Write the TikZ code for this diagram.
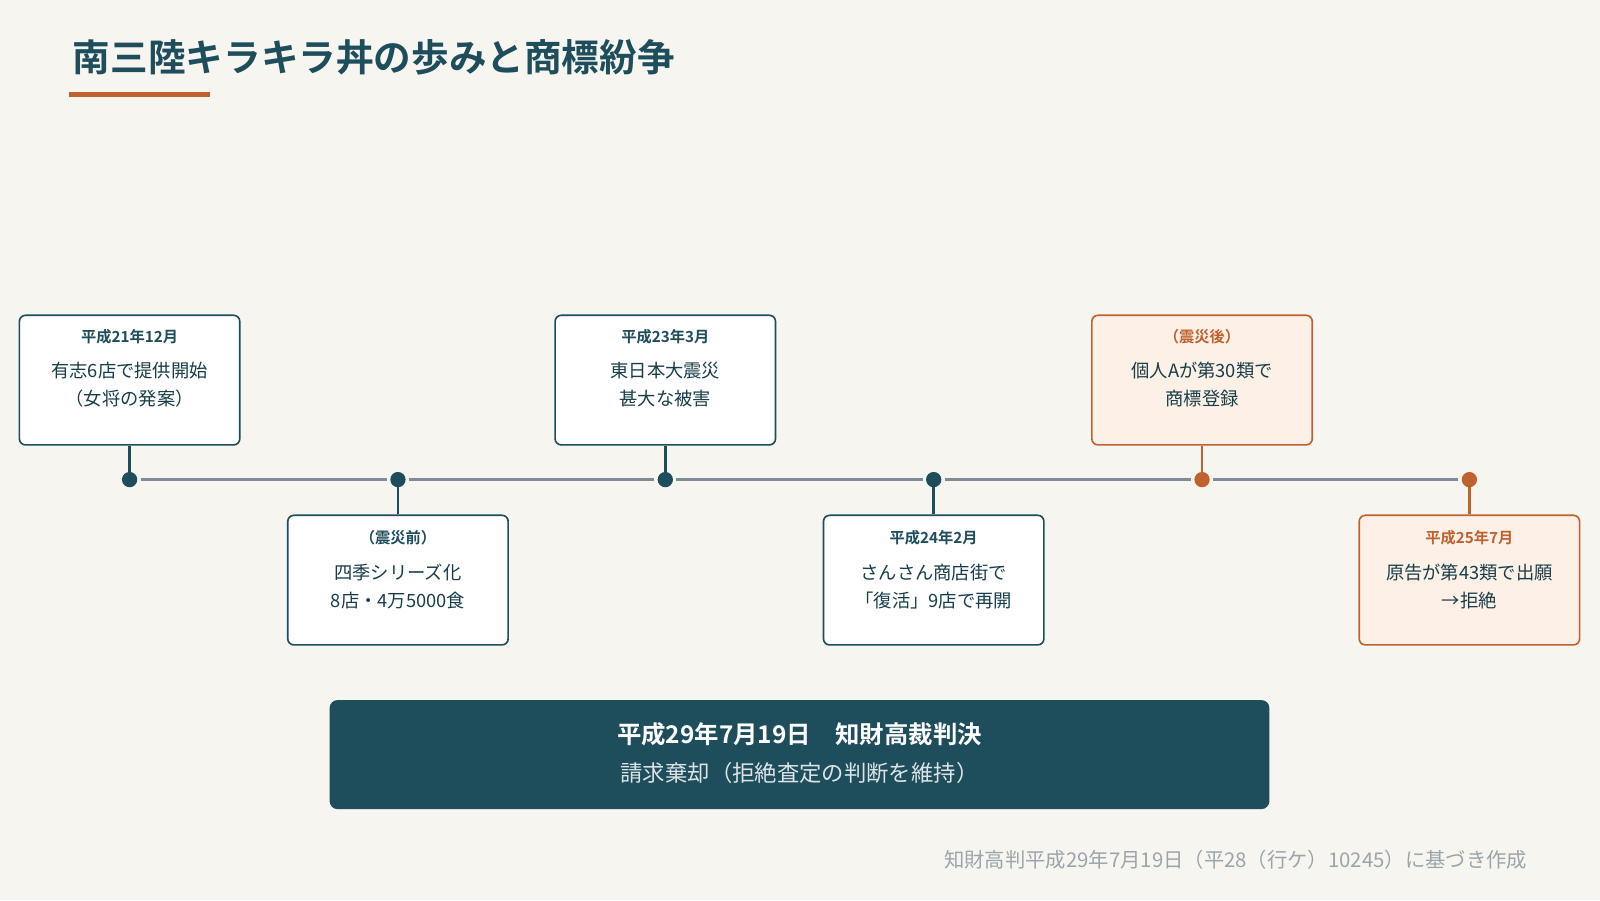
\documentclass[tikz,border=0pt]{standalone}
\usepackage{fontspec}
\setmainfont{Noto Sans CJK JP}[BoldFont={Noto Sans CJK JP Bold}]
\definecolor{teal}{HTML}{1E4D5C}
\definecolor{org}{HTML}{C0622F}
\definecolor{bg}{HTML}{F7F5F0}
\definecolor{lineg}{HTML}{7F8C95}
\definecolor{pale}{HTML}{FDF0E6}
\definecolor{foot}{HTML}{9AA5AB}
\begin{document}
\begin{tikzpicture}[x=1bp,y=-1bp,
  box/.style={draw=teal,line width=1.6bp,fill=white,rounded corners=6bp,minimum width=216bp,minimum height=127bp,inner sep=0},
  obox/.style={box,draw=org,fill=pale},
  dot/.style={circle,fill=teal,minimum size=15bp,inner sep=0},
  odot/.style={dot,fill=org},
  stem/.style={line width=2.5bp,draw=teal},
  ostem/.style={stem,draw=org},
  date/.style={font=\bfseries\fontsize{15}{18}\selectfont,text=teal},
  odate/.style={date,text=org},
  body/.style={font=\fontsize{18}{28}\selectfont,text=teal!80!black,align=center}]
\fill[bg] (0,0) rectangle (1568,882);
\useasboundingbox (0,0) rectangle (1568,882);
\node[anchor=base west,font=\bfseries\fontsize{37}{40}\selectfont,text=teal] (title) at (68,70) {南三陸キラキラ丼の歩みと商標紛争};
\fill[org] (68,90) rectangle (206,95);
% timeline
\foreach \n/\x/\s in {d1/127/dot,d2/390/dot,d3/652/dot,d4/915/dot,d5/1178/odot,d6/1440/odot}
  \node[\s] (\n) at (\x,470) {};
\foreach \a/\b in {d1/d2,d2/d3,d3/d4,d4/d5,d5/d6}
  \draw[lineg,line width=3bp,shorten <=3bp,shorten >=3bp] (\a) -- (\b);
% top boxes
\node[box] (b1) at (127,372.5) {};
\node[box] (b3) at (652,372.5) {};
\node[obox] (b5) at (1178,372.5) {};
\node[box] (b2) at (390,568.5) {};
\node[box] (b4) at (915,568.5) {};
\node[obox] (b6) at (1440,568.5) {};
\draw[stem] (b1.south) -- (d1); \draw[stem] (b3.south) -- (d3); \draw[ostem] (b5.south) -- (d5);
\draw[stem] (b2.north) -- (d2); \draw[stem] (b4.north) -- (d4); \draw[ostem] (b6.north) -- (d6);
% texts
\node[date] at (127,330) {平成21年12月};
\node[body] at (127,377) {有志6店で提供開始\\（女将の発案）};
\node[date] at (652,330) {平成23年3月};
\node[body] at (652,377) {東日本大震災\\甚大な被害};
\node[odate] at (1178,330) {（震災後）};
\node[body] at (1178,377) {個人Aが第30類で\\商標登録};
\node[date] at (390,527) {（震災前）};
\node[body] at (390,575) {四季シリーズ化\\8店・4万5000食};
\node[date] at (915,527) {平成24年2月};
\node[body] at (915,575) {さんさん商店街で\\「復活」9店で再開};
\node[odate] at (1440,527) {平成25年7月};
\node[body] at (1440,575) {原告が第43類で出願\\→拒絶};
% banner
\node[fill=teal,rounded corners=8bp,minimum width=921bp,minimum height=107bp] (ban) at (783.5,739.5) {};
\node[font=\bfseries\fontsize{24}{28}\selectfont,text=white] at (783.5,720) {平成29年7月19日\quad 知財高裁判決};
\node[font=\fontsize{22}{26}\selectfont,text=white!85!teal] at (783.5,758) {請求棄却（拒絶査定の判断を維持）};
\node[anchor=east,font=\fontsize{20}{24}\selectfont,text=foot] (fn) at (1500,843) {知財高判平成29年7月19日（平28（行ケ）10245）に基づき作成};
\end{tikzpicture}
\end{document}
